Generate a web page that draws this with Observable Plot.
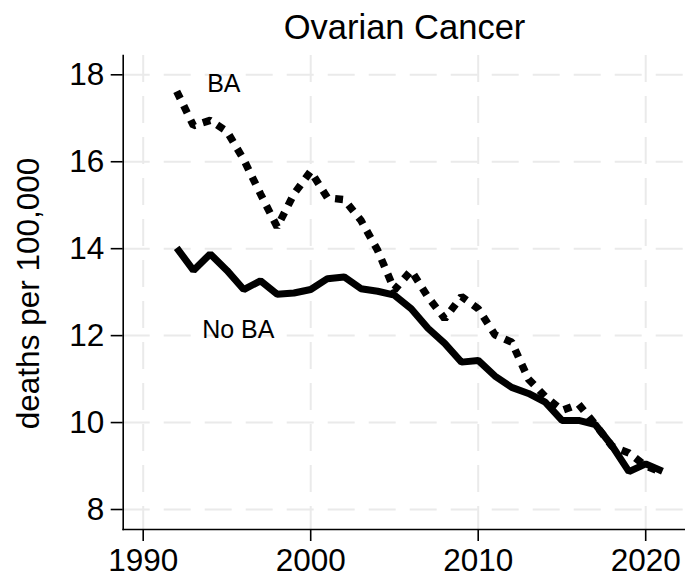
<!DOCTYPE html>
<html>
<head>
<meta charset="utf-8">
<script src="https://cdn.jsdelivr.net/npm/d3@7"></script>
<script src="https://cdn.jsdelivr.net/npm/@observablehq/plot@0.6"></script>
<style>
  html, body { margin: 0; padding: 0; background: #fff; }
  #chart svg { display: block; }
</style>
</head>
<body>
<div id="chart"></div>
<script>
const title = "Ovarian Cancer";
const yLabel = "deaths per 100,000";
const years = [1992,1993,1994,1995,1996,1997,1998,1999,2000,2001,2002,2003,2004,2005,2006,2007,2008,2009,2010,2011,2012,2013,2014,2015,2016,2017,2018,2019,2020,2021];
const baValues = [17.62,16.83,16.95,16.70,16.05,15.26,14.50,15.26,15.78,15.17,15.13,14.65,13.96,13.05,13.50,12.89,12.39,12.90,12.62,12.02,11.85,11.00,10.60,10.28,10.42,9.95,9.45,9.30,9.00,8.85];
const noBaValues = [14.02,13.50,13.88,13.50,13.06,13.26,12.95,12.98,13.06,13.31,13.35,13.08,13.02,12.93,12.62,12.17,11.82,11.39,11.43,11.07,10.81,10.67,10.47,10.05,10.05,9.95,9.46,8.87,9.05,8.88];
const seriesLabels = ["BA", "No BA"];
const xTicks = [1990, 2000, 2010, 2020];
const yTicks = [8, 10, 12, 14, 16, 18];

const ba = years.map((year, i) => ({year, value: baValues[i]}));
const noBa = years.map((year, i) => ({year, value: noBaValues[i]}));
const labelData = [
  {text: seriesLabels[0], year: 1993.82, value: 17.78},
  {text: seriesLabels[1], year: 1993.52, value: 12.14}
];
const titleData = [{text: title, year: 2005.6, value: 19.07}];
const yLabelData = [{text: yLabel, year: 1983.15, value: 12.97}];

const font = "'Liberation Sans', Arial, Helvetica, sans-serif";
const grid = {stroke: "#eaeaea", strokeWidth: 2, strokeDasharray: "27,14"};

const chart = Plot.plot({
  width: 685,
  height: 578,
  marginLeft: 122.7,
  marginRight: 0,
  marginTop: 55,
  marginBottom: 49,
  style: {fontFamily: font, background: "#fff", color: "#000", overflow: "visible"},
  x: {type: "linear", domain: [1988.806, 2022.376]},
  y: {type: "linear", domain: [7.54, 18.444]},
  marks: [
    Plot.ruleY(yTicks, grid),
    Plot.ruleX(xTicks, grid),
    Plot.frame({anchor: "left", stroke: "#000", strokeWidth: 1.6}),
    Plot.frame({anchor: "bottom", stroke: "#000", strokeWidth: 1.6}),
    Plot.axisY(yTicks, {tickSize: 12, tickPadding: 7, fontSize: 31.5, label: null, strokeWidth: 1.6, tickFormat: d => String(d)}),
    Plot.axisX(xTicks, {tickSize: 12, tickPadding: 7.5, fontSize: 31.5, label: null, strokeWidth: 1.6, tickFormat: d => String(d)}),
    Plot.line(noBa, {x: "year", y: "value", stroke: "#000", strokeWidth: 7, strokeLinejoin: "miter", strokeLinecap: "butt"}),
    Plot.line(ba, {x: "year", y: "value", stroke: "#000", strokeWidth: 7.5, strokeDasharray: "8,8", strokeLinejoin: "miter", strokeLinecap: "butt"}),
    Plot.text(labelData, {x: "year", y: "value", text: "text", fontSize: 25, textAnchor: "start", fill: "#000"}),
    Plot.text(titleData, {x: "year", y: "value", text: "text", fontSize: 34.5, fill: "#000"}),
    Plot.text(yLabelData, {x: "year", y: "value", text: "text", rotate: -90, fontSize: 31.5, fill: "#000"})
  ]
});
document.getElementById("chart").appendChild(chart);
</script>
</body>
</html>
